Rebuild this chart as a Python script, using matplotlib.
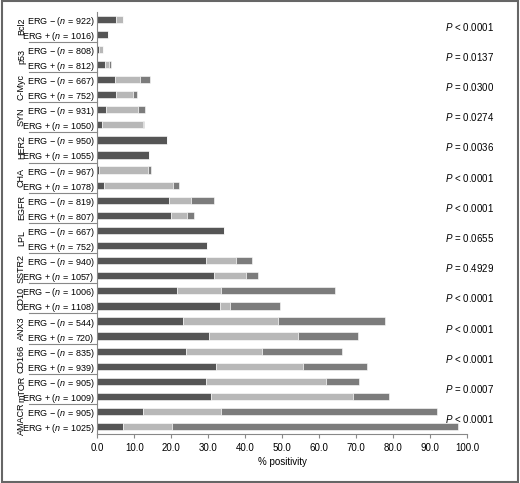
import matplotlib.pyplot as plt
import numpy as np

plt.rcParams['font.family'] = ['Liberation Sans', 'DejaVu Sans']
plt.rcParams['mathtext.fontset'] = 'custom'
plt.rcParams['mathtext.it'] = 'Liberation Sans:italic'

markers = ['Bcl2', 'p53', 'C-Myc', 'SYN', 'HER2', 'CHA', 'EGFR', 'LPL',
           'SSTR2', 'CD10', 'ANX3', 'CD166', 'mTOR', 'AMACR']
n_neg = [922, 808, 667, 931, 950, 967, 819, 667, 940, 1006, 544, 835, 905, 905]
n_pos = [1016, 812, 752, 1050, 1055, 1078, 807, 752, 1057, 1108, 720, 939, 1009, 1025]
pvals = ['< 0.0001', '= 0.0137', '= 0.0300', '= 0.0274', '= 0.0036', '< 0.0001', '< 0.0001',
         '= 0.0655', '= 0.4929', '< 0.0001', '< 0.0001', '< 0.0001', '= 0.0007', '< 0.0001']

# cumulative segment ends (dark, light, medium), ERG- then ERG+ per marker
ends_neg = [(5.1, 7.1, 7.1), (0.5, 1.5, 1.5), (4.7, 11.6, 14.3), (2.3, 11.1, 12.9),
            (18.8, 18.8, 18.8), (0.5, 13.6, 14.5), (19.3, 25.3, 31.5), (34.4, 34.4, 34.4),
            (29.5, 37.6, 41.9), (21.6, 33.5, 64.3), (23.1, 49.0, 77.7), (23.9, 44.5, 66.2),
            (29.3, 62.0, 70.9), (12.3, 33.4, 91.9)]
ends_pos = [(2.8, 2.8, 2.8), (2.0, 3.1, 3.8), (5.0, 9.6, 10.7), (1.3, 12.5, 12.7),
            (14.0, 14.0, 14.0), (1.7, 20.6, 22.2), (20.0, 24.3, 26.1), (29.8, 29.8, 29.8),
            (31.7, 40.3, 43.6), (33.3, 35.9, 49.4), (30.3, 54.3, 70.5), (32.0, 55.7, 72.9),
            (30.9, 69.3, 78.9), (6.9, 20.3, 97.5)]

colors = ['#555555', '#b8b8b8', '#7c7c7c']
fs = 6.5

fig = plt.figure(figsize=(5.2, 4.83), dpi=100)
ax = fig.add_axes([0.187, 0.101, 0.711, 0.875])

labels, ends = [], []
for m in range(len(markers)):
    labels.append('ERG \u2212 ($\\mathit{n}$ = %d)' % n_neg[m])
    ends.append(ends_neg[m])
    labels.append('ERG + ($\\mathit{n}$ = %d)' % n_pos[m])
    ends.append(ends_pos[m])
ends = np.array(ends)
y = np.arange(len(labels))

left = np.zeros(len(labels))
for k in range(3):
    w = ends[:, k] - left
    ax.barh(y, w, left=left, height=0.48, color=colors[k], edgecolor='white', linewidth=0.4)
    left = ends[:, k]

ax.set_ylim(len(labels) - 0.5, -0.5)
ax.set_xlim(0, 100)
ax.set_xticks(np.arange(0, 101, 10))
ax.set_xticklabels(['%.1f' % v for v in np.arange(0, 101, 10)], fontsize=fs + 0.5)
ax.set_yticks(y)
ax.set_yticklabels(labels, fontsize=fs)
ax.tick_params(axis='y', length=0, pad=2)
ax.tick_params(axis='x', length=3, color='#888888')
for s in ['top', 'right']:
    ax.spines[s].set_visible(False)
ax.spines['bottom'].set_color('#888888')
ax.spines['left'].set_color('#888888')
ax.set_xlabel('% positivity', fontsize=fs + 0.5, labelpad=3)

for m, name in enumerate(markers):
    yc = 2 * m + 0.5
    ax.text(-0.205, yc, name, transform=ax.get_yaxis_transform(), rotation=90,
            ha='center', va='center', fontsize=fs)
    ax.text(0.94, yc, '$\\mathit{P}$ ' + pvals[m], transform=ax.get_yaxis_transform(),
            ha='left', va='center', fontsize=fs + 0.5)
    if m > 0:
        ax.plot([-0.185, 0], [2 * m - 0.5] * 2, transform=ax.get_yaxis_transform(),
                clip_on=False, color='#888888', lw=0.8)

fig.patches.append(plt.Rectangle((0.003, 0.003), 0.994, 0.994, transform=fig.transFigure,
                                 fill=False, edgecolor='#666666', lw=1.5))
fig.savefig('out.png', dpi=100)
